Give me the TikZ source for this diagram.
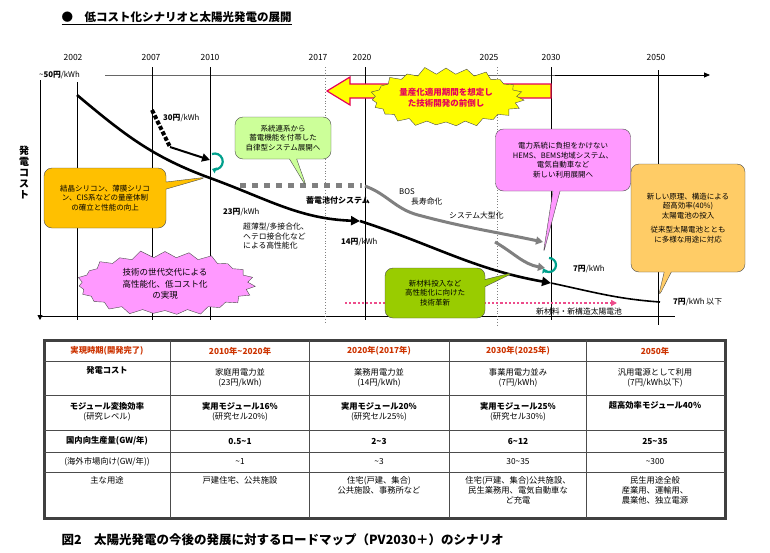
\documentclass[tikz,border=0pt]{standalone}
\usepackage{fontspec}
\setmainfont{Noto Sans CJK JP}
\usetikzlibrary{arrows.meta,shapes.symbols,shapes.callouts,calc}
\definecolor{cyel}{RGB}{255,255,0}
\definecolor{cred}{RGB}{230,0,90}
\definecolor{cgreen}{RGB}{204,255,153}
\definecolor{corange}{RGB}{255,192,0}
\definecolor{clorange}{RGB}{255,204,102}
\definecolor{cpink}{RGB}{255,153,255}
\definecolor{colive}{RGB}{153,204,0}
\definecolor{chead}{RGB}{204,51,0}
\definecolor{cteal}{RGB}{0,160,140}
\tikzset{
 lbl/.style={font=\fontsize{7.8}{9}\selectfont,inner sep=1pt},
 yr/.style={font=\fontsize{8.5}{10}\selectfont},
 vline/.style={line width=0.8pt},
 box/.style={rectangle callout,draw=black!70,rounded corners=8pt,align=center,font=\fontsize{7.5}{9.5}\selectfont,inner sep=2pt},
 burst/.style={starburst,draw=black!70,starburst points=23,starburst point height=8pt,random starburst=11,align=center},
 cell/.style={font=\fontsize{8.3}{10}\selectfont,align=center,inner sep=1pt},
 hcell/.style={cell,text=chead,font=\fontsize{8.3}{10}\selectfont\bfseries},
 bcell/.style={cell,font=\fontsize{8.3}{10}\selectfont\bfseries},
}
\begin{document}
\begin{tikzpicture}[x=1pt,y=-1pt]
\useasboundingbox (0,0) rectangle (770,552);
% title
\node[font=\fontsize{11.5}{13}\selectfont\bfseries,anchor=west] (title) at (58,18) {\underline{●\quad 低コスト化シナリオと太陽光発電の展開}};
% years
\node[yr] (y1) at (73,57) {2002};
\node[yr] (y2) at (151,57) {2007};
\node[yr] (y3) at (210,57) {2010};
\node[yr] (y4) at (318,57) {2017};
\node[yr] (y5) at (362,57) {2020};
\node[yr] (y6) at (489,57) {2025};
\node[yr] (y7) at (551,57) {2030};
\node[yr] (y8) at (656,57) {2050};
% axes
\coordinate (ax0) at (40,80); \coordinate (ax1) at (40,320);
\coordinate (tl0) at (105,75); \coordinate (tl1) at (710,75);
\coordinate (bl0) at (40,316); \coordinate (bl1) at (675,316);
\draw[line width=0.8pt,-{Triangle[length=5pt,width=5pt]}] (ax0) -- (ax1);
\draw[black!60,line width=0.8pt] (tl0) -- (555,75);
\draw[line width=0.8pt,-{Triangle[length=6pt,width=5pt]}] (555,75) -- (tl1);
\draw[line width=0.8pt] (bl0) -- (bl1);
\node[lbl,anchor=west] (fifty) at (38,75) {\textasciitilde\textbf{50円}/kWh};
\node[font=\fontsize{10}{11}\selectfont\bfseries,align=center] (cost) at (24,172) {発\\電\\コ\\ス\\ト};
% vertical lines
\draw[vline] (77,82) -- (77,320);
\draw[vline] (152,67) -- (152,320);
\draw[vline] (210,67) -- (210,320);
\draw[black!50,dotted,line width=0.8pt] (325,67) -- (325,322);
\draw[vline] (365,67) -- (365,320);
\draw[black!50,dotted,line width=0.8pt] (497,67) -- (497,325);
\draw[vline] (551,67) -- (551,320);
\draw[vline] (658,70) -- (658,325);
% left hollow arrow
\draw[cred,line width=1.2pt,fill=cyel] (327,91) -- (350,77) -- (350,84) -- (551,84) -- (551,98) -- (350,98) -- (350,105) -- cycle;
\node[burst,fill=cyel,minimum width=152pt,minimum height=64pt,text=cred,font=\fontsize{8.5}{11}\selectfont\bfseries] (sb1) at (446,98) {量産化適用期間を想定し\\た技術開発の前倒し};
% gray system curves
\draw[black!50,line width=5pt,dash pattern=on 6pt off 6pt] (240,185) -- (362,185);
\draw[black!50,line width=3pt,-{Triangle[length=7pt,width=8pt]}] (365,186) to[out=-20,in=165] (418,215) to[out=-15,in=168] (543,242);
\draw[black!50,line width=3pt,-{Triangle[length=7pt,width=8pt]}] (495,242) to[out=-30,in=170] (545,268);
\node[lbl,anchor=west] (bos) at (398,192) {BOS};
\node[lbl,anchor=west] (life) at (410,202) {長寿命化};
\node[lbl,anchor=west] (large) at (448,216) {システム大型化};
\node[lbl,font=\fontsize{8}{9}\selectfont\bfseries] (chikuden) at (338,200) {蓄電池付システム};
% main curve
\coordinate (c0) at (77,95); \coordinate (c1) at (210,178); \coordinate (c2) at (360,221); \coordinate (c3) at (551,283); \coordinate (c4) at (660,302);
\draw[line width=2.6pt,-{Triangle[length=9pt,width=9pt]}] (c0) to[out=-40,in=160] (c1) to[out=-20,in=178] (c2);
\draw[line width=2.6pt,-{Triangle[length=9pt,width=9pt]}] (c2) to[out=-18,in=170] (c3);
\draw[line width=1.6pt] (c3) to[out=-12,in=176] (c4);
\draw[line width=4pt,dotted] (152,110) -- (170,147);
\draw[line width=2pt,-{Triangle[length=8pt,width=8pt]}] (170,147) -- (210,160);
\draw[cteal,line width=2.2pt,-{Triangle[length=4pt,width=6pt]}] (212,154) arc[start angle=110,end angle=-110,radius=8pt];
\draw[cteal,line width=2.2pt,-{Triangle[length=4pt,width=6pt]}] (549,258) arc[start angle=90,end angle=-150,radius=7pt];
% pink dotted
\draw[cred!70,line width=2.2pt,dotted,-{Triangle[length=6pt,width=6pt]}] (345,303) -- (617,303);
\node[lbl,anchor=west] (newmat) at (535,312) {新材料・新構造太陽電池};
% cost labels
\node[lbl,anchor=west] (p30) at (162,118) {\textbf{30円}/kWh};
\node[lbl,anchor=west] (p23) at (222,212) {\textbf{23円}/kWh};
\node[lbl,anchor=west] (p14) at (340,242) {\textbf{14円}/kWh};
\node[lbl,anchor=west] (p7) at (572,269) {\textbf{7円}/kWh};
\node[lbl,anchor=west] (p7b) at (672,302) {\textbf{7円}/kWh 以下};
\node[lbl,anchor=north west,align=left,font=\fontsize{7.8}{9.5}\selectfont] (ultra) at (242,222) {超薄型/多接合化、\\ヘテロ接合化など\\による高性能化};
% callouts
\node[box,fill=cgreen,minimum width=96pt,minimum height=42pt,callout absolute pointer={(307,188)}] (grn) at (283,138) {系統連系から\\蓄電機能を付帯した\\自律型システム展開へ};
\node[box,fill=corange,minimum width=122pt,minimum height=60pt,callout absolute pointer={(208,177)}] (org) at (105,198) {結晶シリコン、薄膜シリコ\\ン、CIS系などの量産体制\\の確立と性能の向上};
\node[burst,fill=cpink,minimum width=182pt,minimum height=58pt,font=\fontsize{8.5}{11.5}\selectfont] (sb2) at (165,284) {技術の世代交代による\\高性能化、低コスト化\\の実現};
\node[box,fill=cpink,minimum width=135pt,minimum height=62pt,callout absolute pointer={(543,255)}] (pnk) at (563,160) {電力系統に負担をかけない\\HEMS、BEMS地域システム、\\電気自動車など\\新しい利用展開へ};
\node[box,fill=colive,minimum width=100pt,minimum height=50pt,callout absolute pointer={(515,272)}] (olv) at (435,293) {新材料投入など\\高性能化に向けた\\技術革新};
\node[box,fill=clorange,minimum width=114pt,minimum height=108pt,callout absolute pointer={(658,298)}] (lor) at (688,218) {新しい原理、構造による\\超高効率(40\%)\\太陽電池の投入\\[5pt]従来型太陽電池ととも\\に多様な用途に対応};
% table
\coordinate (t0) at (44,340); \coordinate (t1) at (725,518);
\draw[black!75,line width=3pt] (t0) rectangle (t1);
\foreach \y in {361,395,430,452,472}{\draw[black!70,line width=0.6pt] (44,\y) -- (725,\y);}
\foreach \x in {170,309,449,586}{\draw[black!70,line width=0.6pt] (\x,340) -- (\x,518);}
\node[hcell] (h0) at (107,351) {実現時期(開発完了)};
\node[hcell] (h1) at (240,351) {2010年\textasciitilde 2020年};
\node[hcell] (h2) at (379,351) {2020年(2017年)};
\node[hcell] (h3) at (518,351) {2030年(2025年)};
\node[hcell] (h4) at (655,351) {2050年};
\node[bcell] (r10) at (107,370) {発電コスト};
\node[cell] (r11) at (240,378) {家庭用電力並\\(23円/kWh)};
\node[cell] (r12) at (379,378) {業務用電力並\\(14円/kWh)};
\node[cell] (r13) at (518,378) {事業用電力並み\\(7円/kWh)};
\node[cell] (r14) at (655,378) {汎用電源として利用\\(7円/kWh以下)};
\node[cell] (r20) at (107,412) {\textbf{モジュール変換効率}\\(研究レベル)};
\node[cell] (r21) at (240,412) {\textbf{実用モジュール16\%}\\(研究セル20\%)};
\node[cell] (r22) at (379,412) {\textbf{実用モジュール20\%}\\(研究セル25\%)};
\node[cell] (r23) at (518,412) {\textbf{実用モジュール25\%}\\(研究セル30\%)};
\node[bcell] (r24) at (655,405) {超高効率モジュール40\%};
\node[bcell] (r30) at (107,441) {国内向生産量(GW/年)};
\node[bcell] (r31) at (240,441) {0.5\textasciitilde 1};
\node[bcell] (r32) at (379,441) {2\textasciitilde 3};
\node[bcell] (r33) at (518,441) {6\textasciitilde 12};
\node[bcell] (r34) at (655,441) {25\textasciitilde 35};
\node[cell] (r40) at (107,462) {(海外市場向け(GW/年))};
\node[cell] (r41) at (240,462) {\textasciitilde 1};
\node[cell] (r42) at (379,462) {\textasciitilde 3};
\node[cell] (r43) at (518,462) {30\textasciitilde 35};
\node[cell] (r44) at (655,462) {\textasciitilde 300};
\node[cell,anchor=north] (r50) at (107,475) {主な用途};
\node[cell,anchor=north] (r51) at (240,475) {戸建住宅、公共施設};
\node[cell,anchor=north] (r52) at (379,475) {住宅(戸建、集合)\\公共施設、事務所など};
\node[cell,anchor=north] (r53) at (518,475) {住宅(戸建、集合)公共施設、\\民生業務用、電気自動車な\\ど充電};
\node[cell,anchor=north] (r54) at (655,475) {民生用途全般\\産業用、運輸用、\\農業他、独立電源};
% caption
\node[font=\fontsize{12.5}{14}\selectfont\bfseries,anchor=west] (cap) at (58,540) {図2\quad 太陽光発電の今後の発展に対するロードマップ（PV2030＋）のシナリオ};
\end{tikzpicture}
\end{document}
